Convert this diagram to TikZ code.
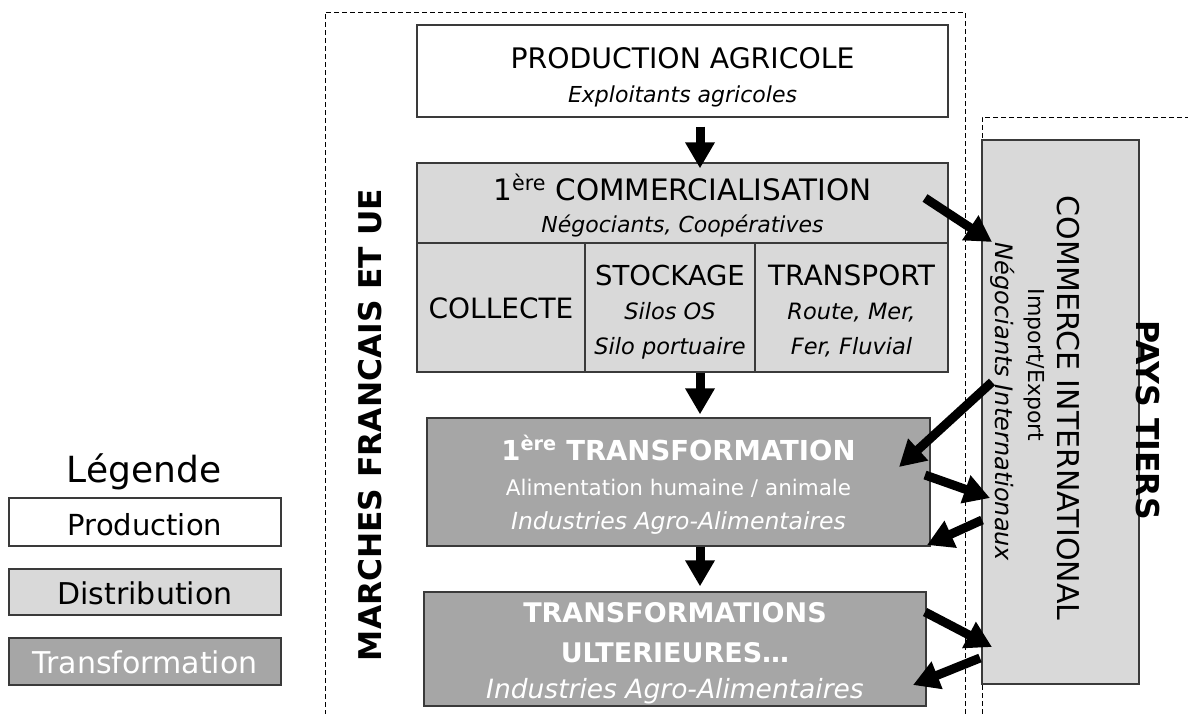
\documentclass[tikz,border=0pt]{standalone}
\usepackage{fontspec}
\setmainfont{DejaVu Sans}
\usetikzlibrary{arrows.meta,calc}
\definecolor{lg}{HTML}{D9D9D9}
\definecolor{dg}{HTML}{A6A6A6}
\definecolor{bd}{HTML}{3A3A3A}
\newcommand{\fs}[1]{\fontsize{#1}{#1}\selectfont}
\begin{document}
\begin{tikzpicture}[x=1pt,y=-1pt,
 box/.style={draw=bd, line width=1.3pt, inner sep=0pt},
 prodbox/.style={box, fill=white},
 distbox/.style={box, fill=lg},
 trbox/.style={box, fill=dg},
 txt/.style={inner sep=0pt, anchor=base},
 wtxt/.style={txt, text=white},
 arr/.style={line width=9pt, -{Triangle[length=26pt,width=28pt]}},
 zone/.style={line width=1pt, dash pattern=on 5pt off 3pt},
 ]
\useasboundingbox (0,0) rectangle (1188,713);
\fill[white] (0,0) rectangle (1188,713);

% zones
\draw[zone] (325,715) -- (325,12) -- (965,12) -- (965,715);
\draw[zone] (1190,117) -- (982,117) -- (982,715);

% main boxes
\node[prodbox, minimum width=531pt, minimum height=92pt] (prod) at (682.5,71) {};
\node[txt] (prodT) at (682.5,68) {\fs{28.3}PRODUCTION AGRICOLE};
\node[txt] (prodS) at (682.5,102) {\fs{22}\itshape Exploitants agricoles};

\node[distbox, minimum width=531pt, minimum height=80pt] (comm) at (682.5,203) {};
\node[distbox, minimum width=168pt, minimum height=129pt] (coll) at (501,307.5) {};
\node[distbox, minimum width=170pt, minimum height=129pt] (stock) at (670,307.5) {};
\node[distbox, minimum width=193pt, minimum height=129pt] (trans) at (851.5,307.5) {};
\node[txt] (commT) at (682.5,200) {\fs{29.5}1\textsuperscript{ère} COMMERCIALISATION};
\node[txt] (commS) at (682.5,232) {\fs{22}\itshape Négociants, Coopératives};
\node[txt] (collT) at (501,318) {\fs{28}COLLECTE};
\node[txt] (stockT) at (670,285) {\fs{27.5}STOCKAGE};
\node[txt] (stockS1) at (670,319) {\fs{22.5}\itshape Silos OS};
\node[txt] (stockS2) at (670,354) {\fs{22.5}\itshape Silo portuaire};
\node[txt] (transT) at (851.5,285) {\fs{28}TRANSPORT};
\node[txt] (transS1) at (851.5,319) {\fs{22.5}\itshape Route, Mer,};
\node[txt] (transS2) at (851.5,354) {\fs{22.5}\itshape Fer, Fluvial};

\node[trbox, minimum width=503pt, minimum height=128pt] (tr1) at (678.5,482) {};
\node[wtxt] (tr1T) at (678.5,460) {\fs{27.5}\bfseries 1\textsuperscript{ère} TRANSFORMATION};
\node[wtxt] (tr1S) at (678.5,495) {\fs{21.5}Alimentation humaine / animale};
\node[wtxt] (tr1I) at (678.5,529) {\fs{23.5}\itshape Industries Agro-Alimentaires};

\node[trbox, minimum width=502pt, minimum height=114pt] (tr2) at (675,649) {};
\node[wtxt] (tr2T) at (675,622) {\fs{27}\bfseries TRANSFORMATIONS};
\node[wtxt] (tr2U) at (675,662) {\fs{27}\bfseries ULTERIEURES…};
\node[wtxt] (tr2I) at (675,698) {\fs{26.5}\itshape Industries Agro-Alimentaires};

\node[distbox, minimum width=157pt, minimum height=544pt] (ci) at (1060.5,412) {};
\node[inner sep=0pt, rotate=-90] (ciT) at (1068,408) {\fs{30}COMMERCE INTERNATIONAL};
\node[inner sep=0pt, rotate=-90] (ciS) at (1034,365) {\fs{22}Import/Export};
\node[inner sep=0pt, rotate=-90] (ciN) at (1003,402) {\fs{24}\itshape Négociants Internationaux};

\node[inner sep=0pt, rotate=90] (marches) at (370,425) {\fs{31.3}\bfseries MARCHES FRANCAIS ET UE};
\node[inner sep=0pt, rotate=-90] (pays) at (1148,420) {\fs{31.5}\bfseries PAYS TIERS};

% legend
\node[txt] (leg) at (144,482) {\fs{36}Légende};
\node[prodbox, minimum width=272pt, minimum height=48pt] (lp) at (145,522) {};
\node[txt] at (145,535) {\fs{29}Production};
\node[distbox, minimum width=272pt, minimum height=46pt] (ld) at (145,592) {};
\node[txt] at (145,604) {\fs{30}Distribution};
\node[trbox, minimum width=272pt, minimum height=47pt] (lt) at (145,661.5) {};
\node[wtxt] at (145,673) {\fs{30}Transformation};

% vertical arrows
\coordinate (ax) at (700,0);
\draw[arr, shorten <=9pt] (prod.south -| ax) -- ($(comm.north -| ax)+(0,6)$);
\draw[arr] (coll.south -| ax) -- ($(tr1.north -| ax)+(0,-3)$);
\draw[arr] (tr1.south -| ax) -- ($(tr2.north -| ax)+(0,-5)$);

% diagonal arrows
\coordinate (a1) at (925,198);  \coordinate (b1) at (992,242);
\coordinate (a2) at (992,382);  \coordinate (b2) at (899,467);
\coordinate (a3) at (925,475);  \coordinate (b3) at (990,498);
\coordinate (a4) at (982,520);  \coordinate (b4) at (927,545);
\coordinate (a5) at (925,612);  \coordinate (b5) at (992,647);
\coordinate (a6) at (980,658);  \coordinate (b6) at (913,685);
\foreach \i in {1,...,6} \draw[arr] (a\i) -- (b\i);
\end{tikzpicture}
\end{document}
